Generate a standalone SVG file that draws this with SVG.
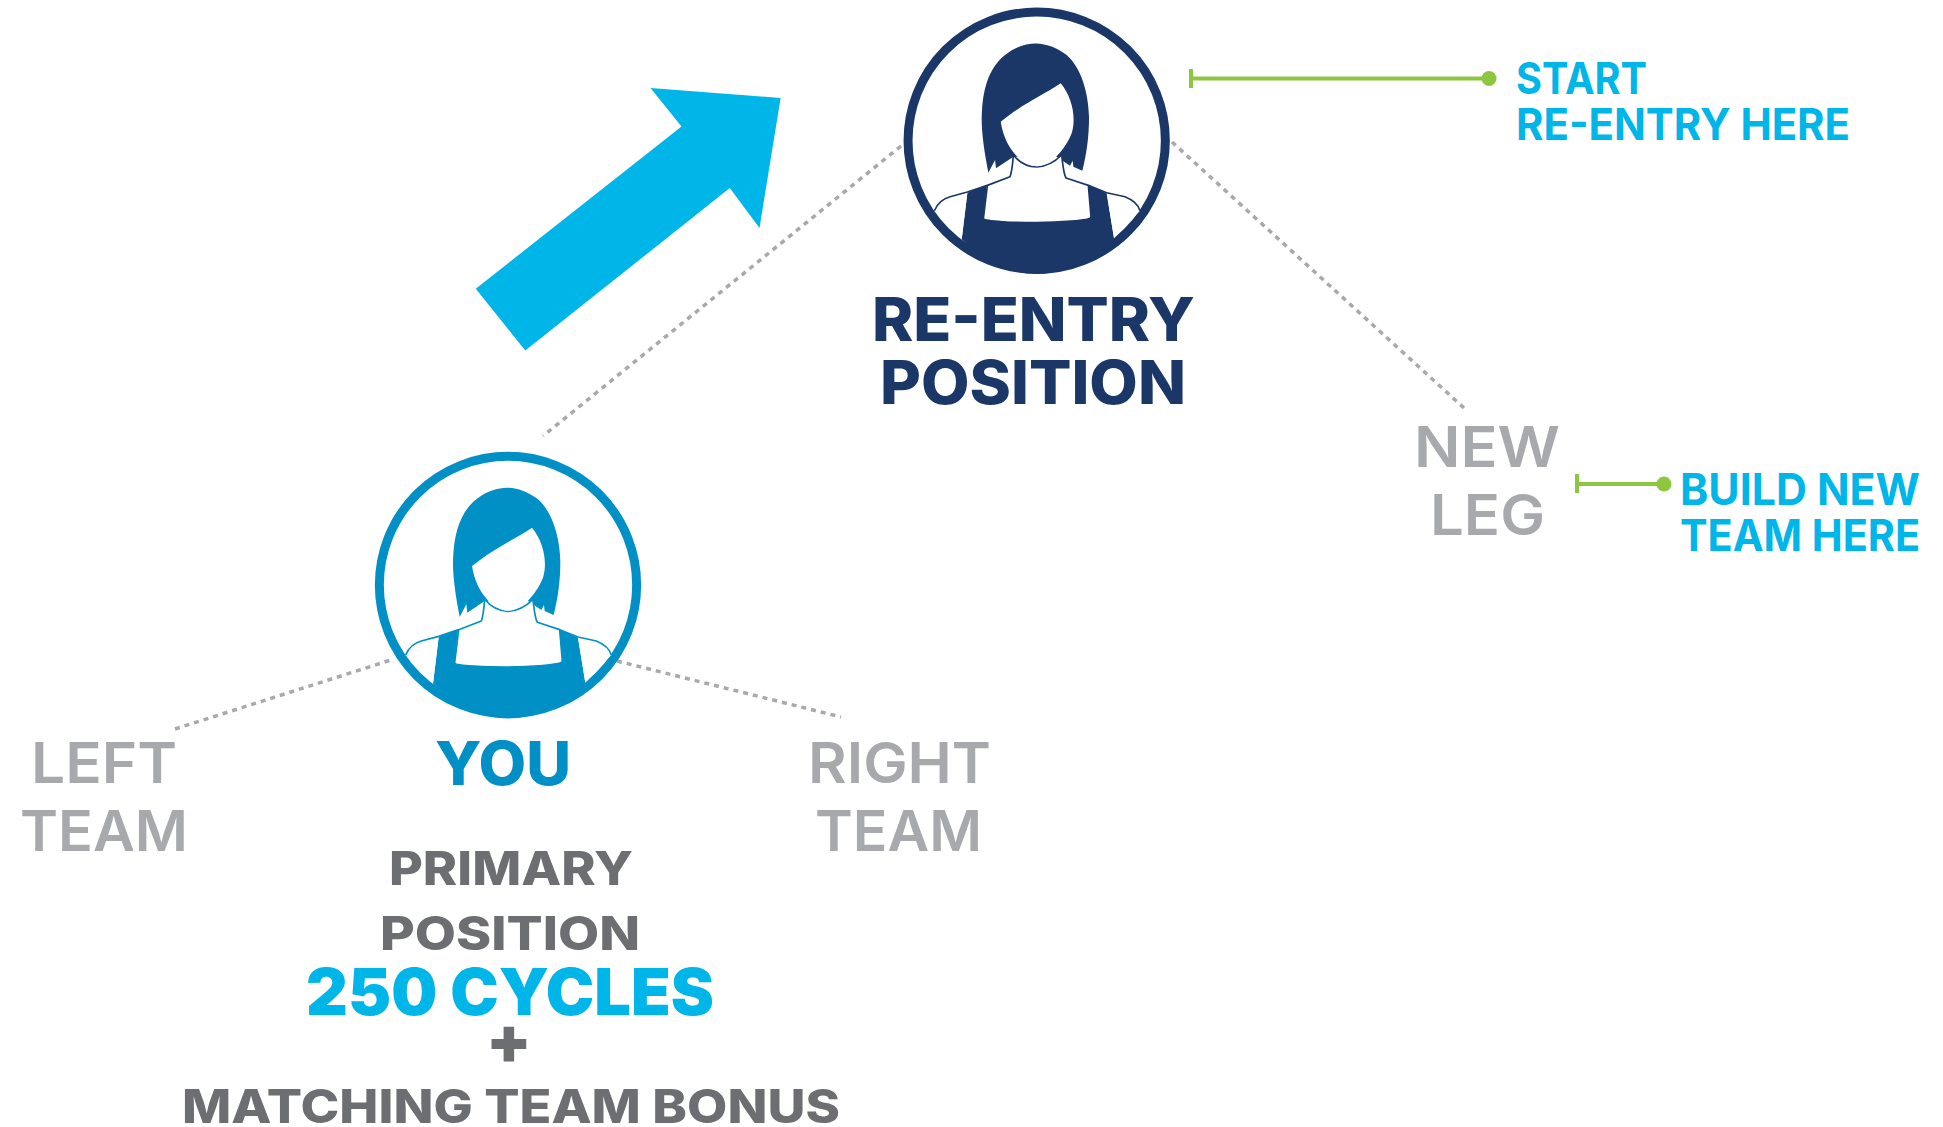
<svg xmlns="http://www.w3.org/2000/svg" width="1943" height="1127" viewBox="0 0 1943 1127">
<style>
text{font-family:Inter,"Liberation Sans",sans-serif;text-anchor:start}
.navy{fill:#1a3768;font-weight:800;font-size:60px}
.you{fill:#0090c6;font-weight:800;font-size:60px}
.grey{fill:#a7a9ac;font-weight:600;font-size:56px}
.dark{fill:#6d6e71;font-weight:800;font-size:46px}
.cyan{fill:#00b5e8;font-weight:700;font-size:44px}
.big{fill:#00b5e8;font-weight:900;font-size:64px}
.dash{stroke:#a7a9ac;stroke-width:3.500;stroke-dasharray:5 5;fill:none}
.green{stroke:#8dc63f;stroke-width:4;fill:none}
.dot{fill:#8dc63f}
</style>
<defs>
<g id="person">
<circle cx="440" cy="422" r="386" fill="#fff" stroke="currentColor" stroke-width="27"/>
<path fill="currentColor" d="M295,518C280,440 272,380 276,330C280,260 300,200 345,165C375,140 410,130 437,130C470,130 505,145 530,165C575,205 595,280 597,350C597,410 590,460 577,512L550,500L548,482L540,497L500,470L370,470L318,505L315,480Z"/>
<path fill="currentColor" d="M232,578L215,718C280,780 360,822 440,822C530,822 610,775 672,715L650,580L595,555L603,650C603,662 500,668 440,668C380,668 280,665 280,655L290,555Z"/>
<path fill="#fff" stroke="currentColor" stroke-width="5" stroke-linejoin="round" d="M370,465C368,490 366,515 360,530L292,556L280,655C280,665 380,668 440,668C500,668 603,662 603,650L595,556L528,534C520,520 518,490 515,465C490,490 465,500 440,501C415,500 390,490 370,465Z"/>
<path fill="#fff" d="M232,578L180,590C155,597 140,615 133,632L215,718ZM650,580L705,590C730,600 745,615 750,632L672,715Z"/>
<path fill="none" stroke="currentColor" stroke-width="5" d="M292,556L232,576L180,590C155,597 140,615 133,632M595,556L650,578L705,590C730,600 745,615 750,632"/>
<path fill="#fff" d="M332,365C400,310 460,285 512,250C545,290 560,350 545,400C525,450 480,500 440,499C400,498 345,450 332,365Z"/>
</g>
</defs>
<g id="connectors">
<line class="dash" x1="901" y1="146" x2="543" y2="436"/>
<line class="dash" x1="1172" y1="142" x2="1464" y2="408"/>
<line class="dash" x1="175" y1="729" x2="394" y2="659"/>
<line class="dash" x1="617" y1="661" x2="841" y2="717"/>
<path class="green" d="M1191,69V88M1191,78.500H1488"/>
<circle class="dot" cx="1489" cy="78.500" r="7.500"/>
<path class="green" d="M1577,474V493M1577,484H1663"/>
<circle class="dot" cx="1664" cy="484" r="7.500"/>
</g>
<g id="arrow"><polygon fill="#00b5e8" points="650.500,88 780.600,98 759.500,228 729.800,188 525.300,350.600 475.800,288.700 681.500,126.400"/></g>
<g id="reentry" color="#1a3768">
<use href="#person" transform="translate(1036.700,140.700) scale(.3333) translate(-440,-422)"/>
<text class="navy" x="872" y="341" textLength="323" lengthAdjust="spacingAndGlyphs">RE-ENTRY</text>
<text class="navy" x="880" y="404" textLength="306" lengthAdjust="spacingAndGlyphs">POSITION</text>
</g>
<g id="you" color="#0090c6">
<use href="#person" transform="translate(508,585) scale(.3333) translate(-440,-422)"/>
<text class="you" x="435" y="785" textLength="136" lengthAdjust="spacingAndGlyphs">YOU</text>
</g>
<g id="start-note">
<text class="cyan" x="1516" y="94" textLength="131" lengthAdjust="spacingAndGlyphs">START</text>
<text class="cyan" x="1516" y="140" textLength="334" lengthAdjust="spacingAndGlyphs">RE-ENTRY HERE</text>
</g>
<g id="new-leg">
<text class="grey" x="1414" y="467" textLength="146" lengthAdjust="spacingAndGlyphs">NEW</text>
<text class="grey" x="1430" y="535" textLength="115" lengthAdjust="spacingAndGlyphs">LEG</text>
</g>
<g id="build-note">
<text class="cyan" x="1680" y="505" textLength="240" lengthAdjust="spacingAndGlyphs">BUILD NEW</text>
<text class="cyan" x="1680" y="551" textLength="240" lengthAdjust="spacingAndGlyphs">TEAM HERE</text>
</g>
<g id="left-team">
<text class="grey" x="31" y="783" textLength="146" lengthAdjust="spacingAndGlyphs">LEFT</text>
<text class="grey" x="20" y="851" textLength="168" lengthAdjust="spacingAndGlyphs">TEAM</text>
</g>
<g id="right-team">
<text class="grey" x="808" y="783" textLength="183" lengthAdjust="spacingAndGlyphs">RIGHT</text>
<text class="grey" x="815" y="851" textLength="167" lengthAdjust="spacingAndGlyphs">TEAM</text>
</g>
<g id="primary">
<text class="dark" x="389" y="885" textLength="244" lengthAdjust="spacingAndGlyphs">PRIMARY</text>
<text class="dark" x="380" y="950" textLength="260" lengthAdjust="spacingAndGlyphs">POSITION</text>
<text class="big" x="306" y="1015" textLength="408" lengthAdjust="spacingAndGlyphs">250 CYCLES</text>
<text x="509" y="1063" style="fill:#6d6e71;font-weight:900;font-size:66px;text-anchor:middle">+</text>
<text class="dark" x="182" y="1123" textLength="658" lengthAdjust="spacingAndGlyphs">MATCHING TEAM BONUS</text>
</g>
</svg>
